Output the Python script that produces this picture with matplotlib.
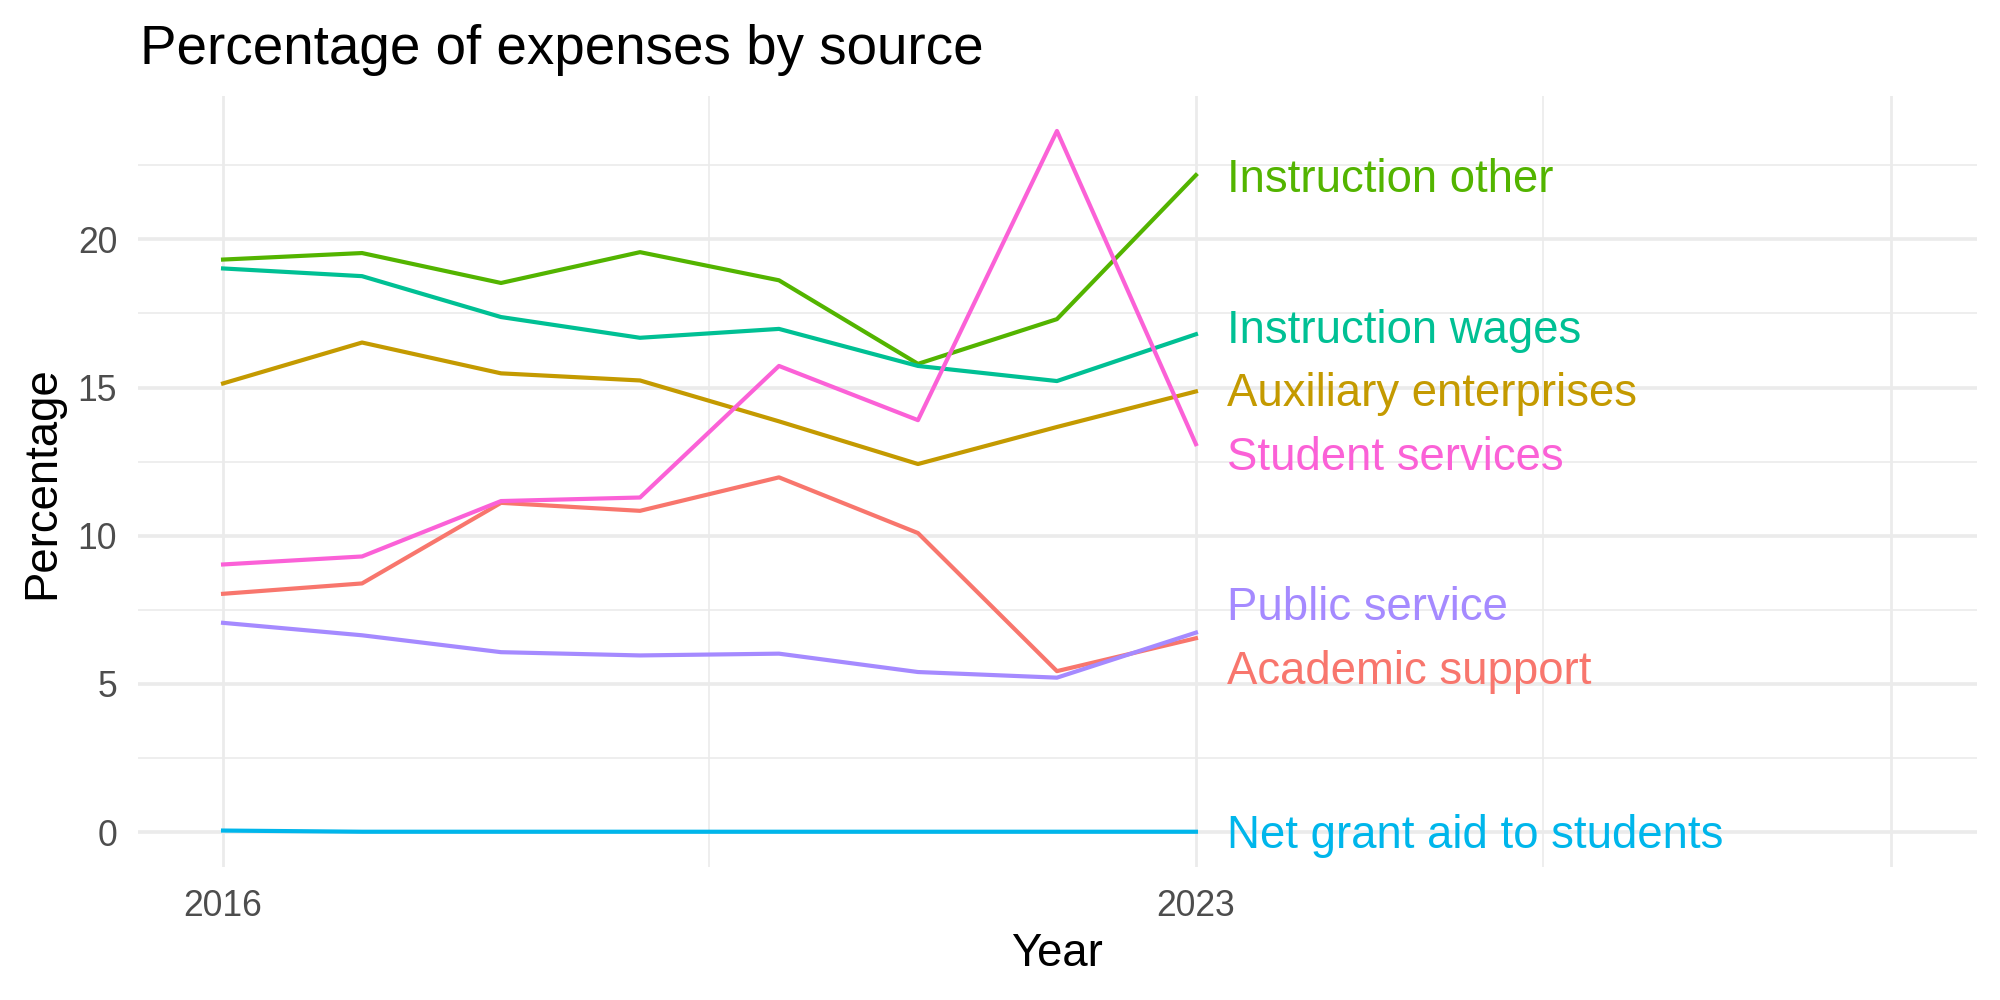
import matplotlib
matplotlib.use("Agg")
import matplotlib.pyplot as plt
import numpy as np

plt.rcParams['font.family'] = ['Liberation Sans', 'DejaVu Sans']

years = [2016, 2017, 2018, 2019, 2020, 2021, 2022, 2023]

sources = [
    "Academic support",
    "Auxiliary enterprises",
    "Instruction other",
    "Instruction wages",
    "Net grant aid to students",
    "Public service",
    "Student services",
]
academic_support = [8.04, 8.39, 11.11, 10.84, 11.97, 10.09, 5.43, 6.54]
auxiliary_enterprises = [15.14, 16.52, 15.48, 15.24, 13.86, 12.42, 13.67, 14.87]
instruction_other = [19.32, 19.54, 18.53, 19.57, 18.62, 15.80, 17.31, 22.17]
instruction_wages = [19.02, 18.76, 17.38, 16.68, 16.98, 15.73, 15.22, 16.80]
net_grant_aid = [0.05, 0.01, 0.01, 0.01, 0.01, 0.01, 0.01, 0.01]
public_service = [7.06, 6.64, 6.07, 5.96, 6.02, 5.40, 5.21, 6.73]
student_services = [9.03, 9.30, 11.17, 11.29, 15.73, 13.90, 23.66, 13.09]

series = [academic_support, auxiliary_enterprises, instruction_other,
          instruction_wages, net_grant_aid, public_service, student_services]
colors = ["#F8766D", "#C49A00", "#53B400", "#00C094", "#00B6EB", "#A58AFF", "#FB61D7"]


def repel(values, min_gap=2.15, n_iter=500):
    # push end labels apart so they don't overlap
    pos = np.array(values, dtype=float)
    for _ in range(n_iter):
        order = np.argsort(pos)
        moved = False
        for a, b in zip(order[:-1], order[1:]):
            gap = pos[b] - pos[a]
            if gap < min_gap:
                push = (min_gap - gap) / 2
                pos[a] -= push
                pos[b] += push
                moved = True
        if not moved:
            break
    return pos


fig = plt.figure(figsize=(10, 5), dpi=200)
ax = fig.add_axes([0.069, 0.133, 0.9195, 0.771])

grid_col = "#EBEBEB"
for y in [2.5, 7.5, 12.5, 17.5, 22.5]:
    ax.axhline(y, color=grid_col, lw=0.6, zorder=0)
for y in [0, 5, 10, 15, 20]:
    ax.axhline(y, color=grid_col, lw=1.3, zorder=0)
for x in [2019.5, 2025.5]:
    ax.axvline(x, color=grid_col, lw=0.6, zorder=0)
for x in [2016, 2023, 2028]:
    ax.axvline(x, color=grid_col, lw=1.0, zorder=0)

for vals, col in zip(series, colors):
    ax.plot(years, vals, color=col, lw=1.5, zorder=2)

last_vals = [s[-1] for s in series]
label_y = repel(last_vals) - 0.15
for name, col, ly in zip(sources, colors, label_y):
    ax.text(years[-1] + 0.22, ly, name, color=col, fontsize=16.4,
            ha='left', va='center', zorder=3)

ax.set_xlim(2015.388, 2028.62)
ax.set_ylim(-1.18, 24.84)
ax.set_xticks([2016, 2023])
ax.set_xticklabels(["2016", "2023"])
ax.set_yticks([0, 5, 10, 15, 20])
ax.tick_params(axis='both', length=0, labelsize=12.8, labelcolor="#4D4D4D")
ax.tick_params(axis='x', pad=8)
ax.tick_params(axis='y', pad=7.5)
for sp in ax.spines.values():
    sp.set_visible(False)

fig.text(0.070, 0.936, "Percentage of expenses by source", fontsize=19.7,
         ha='left', va='baseline', color='black')
fig.text(0.5285, 0.046, "Year", fontsize=16.4, ha='center', va='center')
fig.text(0.021, 0.517, "Percentage", fontsize=16.4, ha='center', va='center',
         rotation=90)

fig.savefig("out.png", dpi=200, facecolor='white')
